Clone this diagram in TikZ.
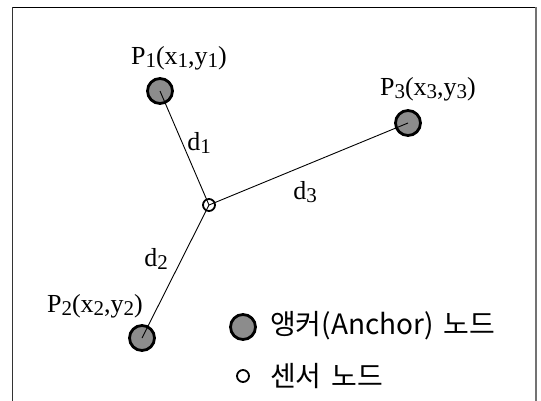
\documentclass[tikz,border=0pt]{standalone}
\usepackage{fontspec}
\setmainfont{Liberation Serif}
\newfontfamily\kor{Noto Sans CJK KR}
\definecolor{anchorgray}{RGB}{140,140,140}
\tikzset{
  anchornode/.style={circle,draw=black,line width=2.8pt,fill=anchorgray,minimum size=25pt,inner sep=0pt},
  sensornode/.style={circle,draw=black,line width=1.8pt,fill=white,minimum size=12pt,inner sep=0pt},
  link/.style={line width=0.9pt},
  plabel/.style={font=\fontsize{26}{26}\selectfont,inner sep=0pt},
  dlabel/.style={font=\fontsize{26}{26}\selectfont,inner sep=0pt},
  legtext/.style={font=\kor\fontsize{28}{28}\selectfont,anchor=west,inner sep=0pt}
}
\newcommand{\sbs}[1]{\raisebox{-0.25ex}{\fontsize{21}{21}\selectfont #1}}
\begin{document}
\begin{tikzpicture}[x=1pt,y=-1pt]
\useasboundingbox (0,0) rectangle (541,400);
\fill[white] (0,0) rectangle (541,400);
% frame
\draw[black,line width=1pt] (12,7.5) -- (536,7.5);
\draw[black!80,line width=1.6pt] (12.5,7) -- (12.5,401);
\draw[black!55,line width=1.8pt] (536,7) -- (536,401);
% nodes
\node[anchornode] (p1) at (160,91) {};
\node[anchornode] (p3) at (408,123) {};
\node[anchornode] (p2) at (142,338) {};
\node[sensornode] (s) at (209,205) {};
% links center to center
\draw[link] (p1.center) -- (s.center);
\draw[link] (p3.center) -- (s.center);
\draw[link] (p2.center) -- (s.center);
% labels
\node[plabel] (l1) at (179,58) {P\sbs{1}(x\sbs{1},y\sbs{1})};
\node[plabel] (l3) at (428,89) {P\sbs{3}(x\sbs{3},y\sbs{3})};
\node[plabel] (l2) at (95,306) {P\sbs{2}(x\sbs{2},y\sbs{2})};
\node[dlabel] (d1) at (199,143) {d\sbs{1}};
\node[dlabel] (d3) at (305,192) {d\sbs{3}};
\node[dlabel] (d2) at (156,259) {d\sbs{2}};
% legend
\node[anchornode] (la) at (243,327) {};
\node[sensornode] (ls) at (243,376) {};
\node[legtext] (lta) at (270,326) {앵커(Anchor)\hspace{0.35em}노드};
\node[legtext] (lts) at (270,376) {센서\hspace{0.35em}노드};
\end{tikzpicture}
\end{document}
